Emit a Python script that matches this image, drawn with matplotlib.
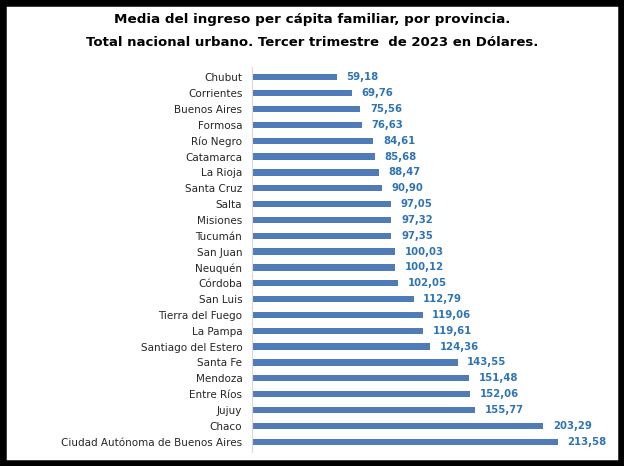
import matplotlib.pyplot as plt
from matplotlib.patches import Rectangle

provincias = ["Chubut", "Corrientes", "Buenos Aires", "Formosa", "Río Negro", "Catamarca",
              "La Rioja", "Santa Cruz", "Salta", "Misiones", "Tucumán", "San Juan", "Neuquén",
              "Córdoba", "San Luis", "Tierra del Fuego", "La Pampa", "Santiago del Estero",
              "Santa Fe", "Mendoza", "Entre Ríos", "Jujuy", "Chaco",
              "Ciudad Autónoma de Buenos Aires"]
ingreso = [59.18, 69.76, 75.56, 76.63, 84.61, 85.68, 88.47, 90.90, 97.05, 97.32, 97.35,
           100.03, 100.12, 102.05, 112.79, 119.06, 119.61, 124.36, 143.55, 151.48, 152.06,
           155.77, 203.29, 213.58]
etiquetas = [f"{v:.2f}".replace(".", ",") for v in ingreso]

bar_color = "#4f7bb9"
label_color = "#2e74b5"

fig = plt.figure(figsize=(6.24, 4.66), dpi=100)
ax = fig.add_axes([252 / 624, 1 - 452 / 466, 348 / 624, 385 / 466])

y = list(range(len(provincias)))
ax.barh(y, ingreso, height=0.4, color=bar_color)
for yi, v, t in zip(y, ingreso, etiquetas):
    ax.annotate(t, (v, yi), xytext=(7, 0), textcoords="offset points",
                va="center", ha="left", fontsize=7.3, fontweight="bold", color=label_color)

ax.set_yticks(y)
ax.set_yticklabels(provincias, fontsize=7.5, color="#262626")
ax.tick_params(axis="y", length=0, pad=7)
ax.set_xticks([])
ax.set_xlim(0, 243)
ax.set_ylim(23.65, -0.65)
for s in ["top", "right", "bottom"]:
    ax.spines[s].set_visible(False)
ax.spines["left"].set_color("#d9d9d9")
ax.spines["left"].set_linewidth(0.8)

fig.text(0.5, 1 - 20 / 466, "Media del ingreso per cápita familiar, por provincia.",
         ha="center", va="center", fontsize=9.7, fontweight="bold")
fig.text(0.5, 1 - 43 / 466, "Total nacional urbano. Tercer trimestre  de 2023 en Dólares.",
         ha="center", va="center", fontsize=9.5, fontweight="bold")

fig.patches.append(Rectangle((0, 0), 1, 1, transform=fig.transFigure, fill=False,
                             edgecolor="black", linewidth=9))

fig.savefig("out.png", dpi=100)
